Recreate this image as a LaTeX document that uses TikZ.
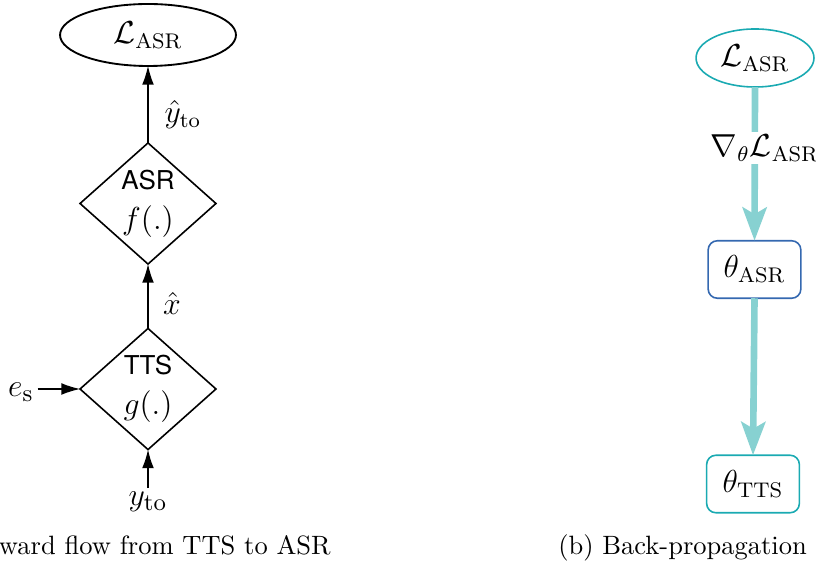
\documentclass[tikz,border=0pt]{standalone}
\usepackage{fontspec}
\newfontfamily\helv{TeX Gyre Heros}
\usetikzlibrary{shapes.geometric,arrows.meta}
\definecolor{flowteal}{RGB}{135,209,209}
\definecolor{ringteal}{RGB}{26,170,178}
\definecolor{boxblue}{RGB}{52,104,176}
\begin{document}
\begin{tikzpicture}[x=0.3774pt,y=-0.3774pt,
  every node/.style={inner sep=0pt, outer sep=0pt},
  fwd/.style={-{Latex[length=7pt,width=4.4pt]}, line width=0.45pt},
  block/.style={draw, line width=0.6pt, diamond, minimum width=51.3pt, minimum height=45.7pt, align=center, font=\helv\fontsize{9.8}{11}\selectfont},
  back/.style={draw=flowteal, line width=2.5pt, -{Stealth[length=12.5pt,width=9pt,inset=2.5pt]}},
  param/.style={draw, rounded corners=3.5pt, line width=0.6pt, minimum width=35pt, minimum height=21.7pt, font=\large},
  mlabel/.style={font=\large},
]
\useasboundingbox (0,0) rectangle (816,567);
% left panel
\node[ellipse, draw, line width=0.7pt, minimum width=66.4pt, minimum height=23.4pt, font=\large] (lossL) at (148,35) {$\mathcal{L}_{\mathrm{ASR}}$};
\node[block] (asr) at (148,203.5) {ASR\\[4pt]{\large $f(.)$}};
\node[block] (tts) at (148,389) {TTS\\[4pt]{\large $g(.)$}};
\node[mlabel] (yhat) at (183,115) {$\hat{y}_{\mathrm{to}}$};
\node[mlabel] (xhat) at (172,303) {$\hat{x}$};
\node[font=\fontsize{13}{15}\selectfont, inner sep=1.5pt] (es) at (21,392) {$e_{\mathrm{s}}$};
\node[font=\fontsize{13}{15}\selectfont, inner sep=1.5pt] (yto) at (148,502) {$y_{\mathrm{to}}$};
\draw[fwd] (asr.north) -- (lossL.south);
\draw[fwd] (tts.north) -- (asr.south);
\draw[fwd] (es.east |- tts.west) -- (tts.west);
\draw[fwd] (yto.north) -- (tts.south);
\node[anchor=base west] (capA) at (-1,554) {ward flow from TTS to ASR};
% right panel
\node[ellipse, draw=ringteal, line width=0.6pt, minimum width=44.5pt, minimum height=21.9pt, font=\large] (lossR) at (755,58) {$\mathcal{L}_{\mathrm{ASR}}$};
\node[param, draw=boxblue] (thA) at (754.5,269.5) {$\theta_{\mathrm{ASR}}$};
\node[param, draw=ringteal] (thT) at (753,484) {$\theta_{\mathrm{TTS}}$};
\draw[back] (lossR.south) -- (thA.north);
\node[fill=white, inner sep=1pt, font=\large] (grad) at (765,148) {$\nabla_{\theta}\mathcal{L}_{\mathrm{ASR}}$};
\draw[back] (thA.south) -- (thT.north);
\node[anchor=base] (capB) at (682.5,554) {(b) Back-propagation};
\end{tikzpicture}
\end{document}
